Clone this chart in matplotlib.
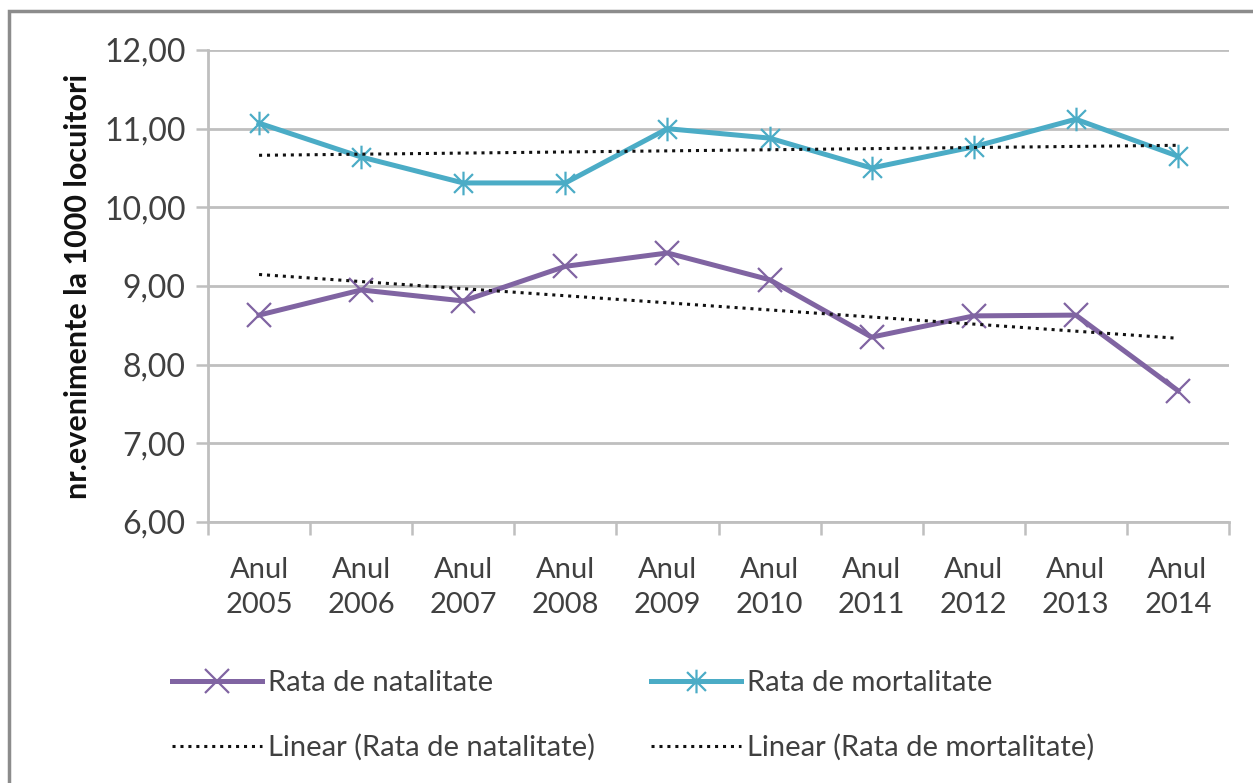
import numpy as np
import matplotlib
matplotlib.use("Agg")
import matplotlib.pyplot as plt
from matplotlib.path import Path
from matplotlib.patches import Rectangle

# date
categorii = ["Anul\n2005", "Anul\n2006", "Anul\n2007", "Anul\n2008", "Anul\n2009",
             "Anul\n2010", "Anul\n2011", "Anul\n2012", "Anul\n2013", "Anul\n2014"]
natalitate = [8.63, 8.95, 8.81, 9.25, 9.42, 9.08, 8.35, 8.62, 8.63, 7.67]
mortalitate = [11.07, 10.64, 10.31, 10.31, 11.00, 10.88, 10.50, 10.77, 11.12, 10.65]
y_ticks = [6, 7, 8, 9, 10, 11, 12]

plt.rcParams['font.family'] = ['Lato', 'DejaVu Sans']

C_NAT = '#8064A2'
C_MORT = '#4BACC6'
TXT = '#404040'

# marker asterisc (x + bara verticala), ca in Excel
star = Path([(0, -1), (0, 1), (-0.8, -0.8), (0.8, 0.8), (-0.8, 0.8), (0.8, -0.8)],
            [Path.MOVETO, Path.LINETO, Path.MOVETO, Path.LINETO, Path.MOVETO, Path.LINETO])

fig = plt.figure(figsize=(12.53, 7.83), dpi=100)
W, H = 1253, 783
ax = fig.add_axes([208 / W, 1 - 522 / H, (1229 - 208) / W, (522 - 50) / H])

x = np.arange(len(categorii))

ax.plot(x, natalitate, color=C_NAT, lw=3.6, marker='x', ms=17, mew=1.6,
        label='Rata de natalitate', zorder=3)
ax.plot(x, mortalitate, color=C_MORT, lw=3.6, marker=star, ms=17, mew=1.6,
        label='Rata de mortalitate', zorder=3)

# linii de tendinta (regresie liniara)
for serie, nume in [(natalitate, 'natalitate'), (mortalitate, 'mortalitate')]:
    k, b = np.polyfit(x, serie, 1)
    ax.plot(x, k * x + b, color='#111111', lw=2.2, ls=(0, (1, 1.6)),
            label=f'Linear (Rata de {nume})', zorder=4)

ax.set_xlim(-0.5, len(categorii) - 0.5)
ax.set_ylim(6, 12)
ax.set_yticks(y_ticks)
ax.set_yticklabels([f"{v:.2f}".replace('.', ',') for v in y_ticks],
                   fontsize=23, color=TXT)
ax.set_xticks(x)
ax.set_xticklabels(categorii, fontsize=21, color=TXT, linespacing=1.45)
ax.set_xticks(np.arange(-0.5, len(categorii)), minor=True)
ax.tick_params(axis='x', which='major', length=0, pad=25)
ax.tick_params(axis='x', which='minor', length=9, width=1.8, color='#BFBFBF')
ax.tick_params(axis='y', length=9, width=1.8, color='#BFBFBF', pad=7)

ax.grid(axis='y', color='#BFBFBF', lw=2)
ax.set_axisbelow(True)
for s in ['top', 'right']:
    ax.spines[s].set_visible(False)
for s in ['left', 'bottom']:
    ax.spines[s].set_color('#BFBFBF')
    ax.spines[s].set_linewidth(2)

ax.set_ylabel('nr.evenimente la 1000 locuitori', fontsize=22, fontweight='bold',
              color='#111111', labelpad=9)

h, l = ax.get_legend_handles_labels()
order = [0, 2, 1, 3]
leg = fig.legend([h[i] for i in order], [l[i] for i in order], ncol=2,
                 loc='upper left', bbox_to_anchor=(172 / W, 1 - 670 / H),
                 frameon=False, fontsize=21, handlelength=3.1,
                 handletextpad=0.2, columnspacing=1.9, labelspacing=1.3,
                 borderpad=0, borderaxespad=0, markerscale=1.0)
for t in leg.get_texts():
    t.set_color(TXT)

# chenar exterior
fig.patches.append(Rectangle((9 / W, -0.05), 1.1, 1 - 11 / H + 0.05,
                             transform=fig.transFigure, fill=False,
                             ec='#8C8C8C', lw=2.5))

fig.savefig('out.png', dpi=100)
